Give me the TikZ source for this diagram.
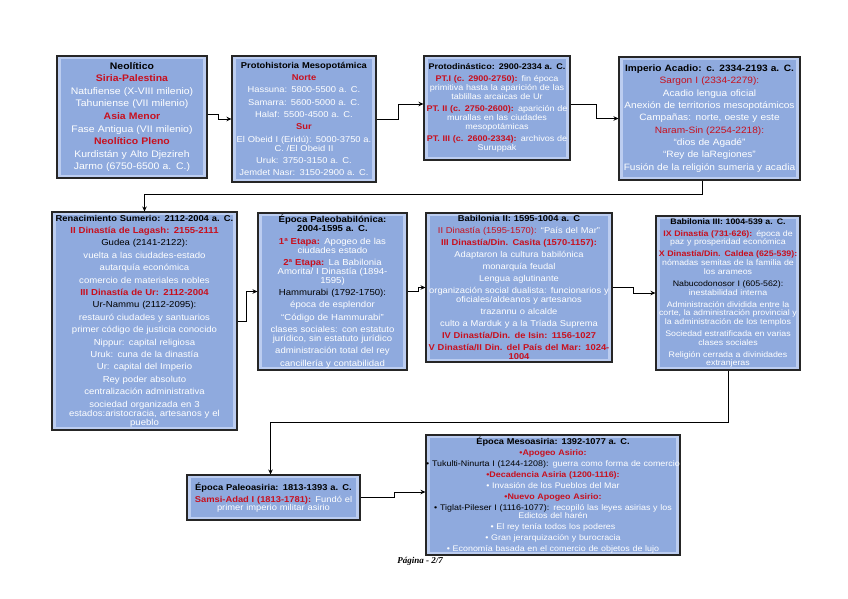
\documentclass[tikz,border=0pt]{standalone}
\usepackage{fontspec}
\setmainfont{Liberation Sans}[FakeStretch=1.1]
\newfontfamily\footfont{Liberation Serif}
\usetikzlibrary{arrows.meta}
\definecolor{boxblue}{RGB}{143,170,222}
\definecolor{bevlight}{RGB}{188,205,240}
\definecolor{dred}{RGB}{200,16,30}
\newcommand{\hdtxt}[1]{\textcolor{black}{\textbf{#1}}}
\newcommand{\redb}[1]{\textcolor{dred}{\textbf{#1}}}
\newcommand{\redn}[1]{\textcolor{dred}{#1}}
\newcommand{\blk}[1]{\textcolor{black}{#1}}
\newcommand{\wln}{\\[-3.3pt]}
\newcommand{\fullln}[1]{\makebox[\linewidth]{#1}}
\begin{document}
\begin{tikzpicture}[x=1pt,y=-1pt,
 bbox/.style={draw=black!85, line width=1.1pt, fill=bevlight, inner sep=0pt, align=center, text=white,
   path picture={\fill[boxblue] ([shift={(4pt,-3pt)}]path picture bounding box.north west) rectangle ([shift={(-4pt,3pt)}]path picture bounding box.south east);}},
 conn/.style={draw=black, line width=0.8pt, -{Stealth[length=5pt,width=4.5pt]}},
]
\fill[white] (0,0) rectangle (848,599);
\useasboundingbox (0,0) rectangle (848,599);

\node[bbox, minimum width=150pt, minimum height=122pt, text width=150pt, font=\fontsize{9.5}{12.6}\selectfont] (b1) at (132,117) {%
\hdtxt{Neolítico}\\
\redb{Siria-Palestina}\\
Natufiense (X-VIII milenio)\\
Tahuniense (VII milenio)\\
\redb{Asia Menor}\\
Fase Antigua (VII milenio)\\
\redb{Neolítico Pleno}\\
Kurdistán y Alto Djezireh\\
Jarmo (6750-6500 a. C.)};

\node[bbox, minimum width=144pt, minimum height=126pt, text width=144pt, font=\fontsize{8.5}{12.3}\selectfont] (b2) at (304,119) {%
\hdtxt{Protohistoria Mesopotámica}\\
\redb{Norte}\\
Hassuna: 5800-5500 a. C.\\
Samarra: 5600-5000 a. C.\\
Halaf: 5500-4500 a. C.\\
\redb{Sur}\\
El Obeid I (Eridú): 5000-3750 a.\wln C. /El Obeid II\\
Uruk: 3750-3150 a. C.\\
Jemdet Nasr: 3150-2900 a. C.};

\node[bbox, minimum width=146pt, minimum height=104pt, text width=146pt, font=\fontsize{8.2}{12.2}\selectfont] (b3) at (497,108) {%
{\fontsize{8.2}{12.2}\selectfont\hdtxt{Protodinástico: 2900-2334 a. C.}}\\
\fullln{\redb{PT.I (c. 2900-2750):} fin época}\wln \fullln{primitiva hasta la aparición de las}\wln tablillas arcaicas de Ur\\
\fullln{\redb{PT. II (c. 2750-2600):} aparición de}\wln murallas en las ciudades\wln mesopotámicas\\
\fullln{\redb{PT. III (c. 2600-2334):} archivos de}\wln Suruppak};

\node[bbox, minimum width=181pt, minimum height=123pt, text width=181pt, font=\fontsize{9.2}{12.3}\selectfont] (b4) at (709.5,118.5) {%
\hdtxt{Imperio Acadio: c. 2334-2193 a. C.}\\
\redn{Sargon I (2334-2279):}\\
Acadio lengua oficial\\
\fullln{Anexión de territorios mesopotámicos}\\
Campañas: norte, oeste y este\\
\redn{Naram-Sin (2254-2218):}\\
“dios de Agadé”\\
“Rey de laRegiones”\\
\fullln{Fusión de la religión sumeria y acadia}};

\node[bbox, minimum width=185pt, minimum height=218pt, text width=185pt, font=\fontsize{8.7}{12.4}\selectfont] (b5) at (144.5,321) {%
{\fontsize{8.5}{12.4}\selectfont\hdtxt{Renacimiento Sumerio: 2112-2004 a. C.}}\\
\redb{II Dinastía de Lagash: 2155-2111}\\
\blk{Gudea (2141-2122):}\\
vuelta a las ciudades-estado\\
autarquía económica\\
comercio de materiales nobles\\
\redb{III Dinastía de Ur: 2112-2004}\\
\blk{Ur-Nammu (2112-2095):}\\
restauró ciudades y santuarios\\
primer código de justicia conocido\\
Nippur: capital religiosa\\
Uruk: cuna de la dinastía\\
Ur: capital del Imperio\\
Rey poder absoluto\\
centralización administrativa\\
sociedad organizada en 3\wln \fullln{estados:aristocracia, artesanos y el}\wln pueblo};

\node[bbox, minimum width=149pt, minimum height=157pt, text width=149pt, font=\fontsize{8.7}{12.3}\selectfont] (b6) at (332.5,291.5) {%
\hdtxt{Época Paleobabilónica:}\wln \hdtxt{2004-1595 a. C.}\\
\redb{1ª Etapa:} Apogeo de las\wln ciudades estado\\
\redb{2ª Etapa:} La Babilonia\wln Amorita/ I Dinastía (1894-\wln 1595)\\
\blk{Hammurabi (1792-1750):}\\
época de esplendor\\
“Código de Hammurabi”\\
clases sociales: con estatuto\wln jurídico, sin estatuto jurídico\\
administración total del rey\\
cancillería y contabilidad};

\node[bbox, minimum width=186pt, minimum height=149pt, text width=186pt, font=\fontsize{8.5}{12}\selectfont] (b7) at (519,287.5) {%
\hdtxt{Babilonia II: 1595-1004 a. C}\\
\redn{II Dinastía (1595-1570):} “País del Mar”\\
\redb{III Dinastía/Din. Casita (1570-1157):}\\
Adaptaron la cultura babilónica\\
monarquía feudal\\
Lengua aglutinante\\
\fullln{organización social dualista: funcionarios y}\wln oficiales/aldeanos y artesanos\\
trazannu o alcalde\\
culto a Marduk y a la Tríada Suprema\\
\redb{IV Dinastía/Din. de Isin: 1156-1027}\\
\fullln{\redb{V Dinastía/II Din. del País del Mar: 1024-}}\wln \redb{1004}};

\node[bbox, minimum width=144pt, minimum height=154pt, text width=144pt, font=\fontsize{8}{12}\selectfont] (b8) at (728,293) {%
\hdtxt{Babilonia III: 1004-539 a. C.}\\
\redb{IX Dinastía (731-626):} época de\wln paz y prosperidad económica\\
\fullln{\redb{X Dinastía/Din. Caldea (625-539):}}\wln \fullln{nómadas semitas de la familia de}\wln los arameos\\
\blk{Nabucodonosor I (605-562):}\wln inestabilidad interna\\
Administración dividida entre la\wln \fullln{corte, la administración provincial y}\wln la administración de los templos\\
Sociedad estratificada en varias\wln clases sociales\\
Religión cerrada a divinidades\wln extranjeras};

\node[bbox, minimum width=173pt, minimum height=45pt, text width=173pt, font=\fontsize{8.5}{12}\selectfont] (b9) at (273.5,497.5) {%
\hdtxt{Época Paleoasiria: 1813-1393 a. C.}\\
\redb{Samsi-Adad I (1813-1781):} Fundó el\wln primer imperio militar asirio};

\node[bbox, minimum width=254pt, minimum height=120pt, text width=254pt, font=\fontsize{8.1}{11}\selectfont] (b10) at (553,495) {%
{\fontsize{8.4}{11}\selectfont\hdtxt{Época Mesoasiria: 1392-1077 a. C.}}\\
\redb{•Apogeo Asirio:}\\
\fullln{\blk{• Tukulti-Ninurta I (1244-1208):} guerra como forma de comercio}\\
\redb{•Decadencia Asiria (1200-1116):}\\
• Invasión de los Pueblos del Mar\\
\redb{•Nuevo Apogeo Asirio:}\\
\fullln{\blk{• Tiglat-Pileser I (1116-1077):} recopiló las leyes asirias y los}\wln Edictos del harén\\
• El rey tenía todos los poderes\\
• Gran jerarquización y burocracia\\
• Economía basada en el comercio de objetos de lujo};

\node[font=\footfont\fontsize{9}{10}\selectfont\bfseries\itshape] (pg) at (420,561) {Página - 2/7};

\draw[conn] ([yshift=3pt]b1.east) -- ++(11,0) |- (b2.west);
\draw[conn] (b2.east) -- ++(22,0) |- ([yshift=4pt]b3.west);
\draw[conn] ([yshift=4pt]b3.east) -- ++(26,0) |- (b4.west);
\draw[conn] ([xshift=-7pt]b4.south) -- ++(0,14) -| (b5.north);
\draw[conn] (b5.east) -- ++(9,0) |- (b6.west);
\draw[conn] (b6.east) -- ++(11,0) |- (b7.west);
\draw[conn] (b7.east) -- ++(21,0) |- (b8.west);
\draw[conn] (b8.south) -- ++(0,52) -| ([xshift=-3pt]b9.north);
\draw[conn] (b9.east) -- ++(34,0) |- ([yshift=3pt]b10.west);
\end{tikzpicture}
\end{document}
